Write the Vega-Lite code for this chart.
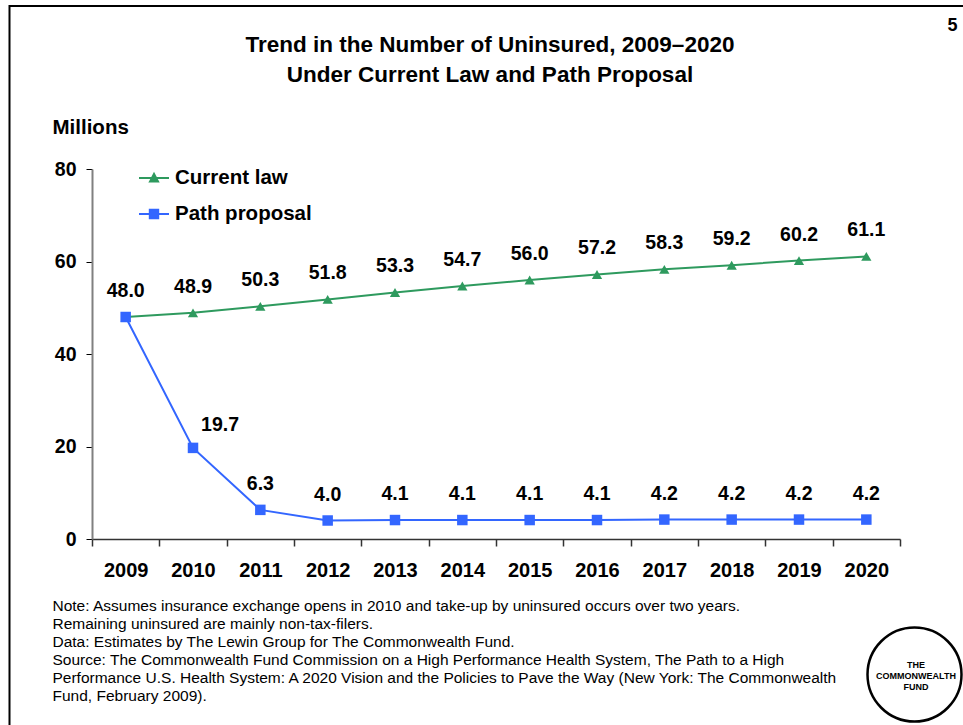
{
  "$schema": "https://vega.github.io/schema/vega-lite/v6.json",
  "width": 808,
  "height": 370,
  "autosize": {"type": "none"},
  "padding": {"left": 92, "top": 169, "right": 63, "bottom": 186},
  "background": "white",
  "config": {"font": "Liberation Sans", "view": {"stroke": null}},
  "title": {
    "text": ["Trend in the Number of Uninsured, 2009\u20132020", "Under Current Law and Path Proposal"],
    "fontSize": 22.5,
    "fontWeight": "bold",
    "font": "Liberation Sans",
    "lineHeight": 30,
    "anchor": "middle",
    "frame": "group",
    "color": "black",
    "dx": -6,
    "dy": 85
  },
  "data": {
    "values": [
      {"year": "2009", "series": "Current law", "value": 48.0},
      {"year": "2010", "series": "Current law", "value": 48.9},
      {"year": "2011", "series": "Current law", "value": 50.3},
      {"year": "2012", "series": "Current law", "value": 51.8},
      {"year": "2013", "series": "Current law", "value": 53.3},
      {"year": "2014", "series": "Current law", "value": 54.7},
      {"year": "2015", "series": "Current law", "value": 56.0},
      {"year": "2016", "series": "Current law", "value": 57.2},
      {"year": "2017", "series": "Current law", "value": 58.3},
      {"year": "2018", "series": "Current law", "value": 59.2},
      {"year": "2019", "series": "Current law", "value": 60.2},
      {"year": "2020", "series": "Current law", "value": 61.1},
      {"year": "2009", "series": "Path proposal", "value": 48.0},
      {"year": "2010", "series": "Path proposal", "value": 19.7},
      {"year": "2011", "series": "Path proposal", "value": 6.3},
      {"year": "2012", "series": "Path proposal", "value": 4.0},
      {"year": "2013", "series": "Path proposal", "value": 4.1},
      {"year": "2014", "series": "Path proposal", "value": 4.1},
      {"year": "2015", "series": "Path proposal", "value": 4.1},
      {"year": "2016", "series": "Path proposal", "value": 4.1},
      {"year": "2017", "series": "Path proposal", "value": 4.2},
      {"year": "2018", "series": "Path proposal", "value": 4.2},
      {"year": "2019", "series": "Path proposal", "value": 4.2},
      {"year": "2020", "series": "Path proposal", "value": 4.2}
    ]
  },
  "encoding": {
    "x": {
      "field": "year",
      "type": "ordinal",
      "scale": {"type": "band", "paddingInner": 0, "paddingOuter": 0},
      "axis": {
        "title": [
          "Note: Assumes insurance exchange opens in 2010 and take-up by uninsured occurs over two years.",
          "Remaining uninsured are mainly non-tax-filers.",
          "Data: Estimates by The Lewin Group for The Commonwealth Fund.",
          "Source: The Commonwealth Fund Commission on a High Performance Health System, The Path to a High",
          "Performance U.S. Health System: A 2020 Vision and the Policies to Pave the Way (New York: The Commonwealth",
          "Fund, February 2009)."
        ],
        "tickBand": "extent",
        "labelAngle": 0,
        "labelFontSize": 20,
        "labelFontWeight": "bold",
        "labelColor": "black",
        "labelPadding": 14,
        "tickSize": 7,
        "tickColor": "#333333",
        "tickWidth": 1.5,
        "domainColor": "#333333",
        "domainWidth": 1.5,
        "titleFontSize": 15.5,
        "titleFontWeight": "normal",
        "titleColor": "black",
        "titleAlign": "left",
        "titleAnchor": "start",
        "titleX": -40,
        "titleY": 59,
        "titleBaseline": "top",
        "titleLineHeight": 18
      }
    },
    "color": {
      "field": "series",
      "type": "nominal",
      "scale": {"domain": ["Current law", "Path proposal"], "range": ["#2E9A5E", "#3366FF"]},
      "legend": {
        "orient": "none",
        "legendX": 46,
        "legendY": -7,
        "padding": 0,
        "title": null,
        "symbolSize": 900,
        "symbolStrokeWidth": 2,
        "labelFontSize": 20.5,
        "labelFontWeight": "bold",
        "labelColor": "black",
        "labelOffset": 5,
        "rowPadding": 9,
        "encode": {
          "symbols": {
            "update": {
              "shape": {"signal": "datum.value === 'Current law' ? 'M-1,0H1M-0.27,0.24L0,-0.28L0.27,0.24Z' : 'M-1,0H1M-0.28,-0.28H0.28V0.28H-0.28Z'"},
              "fill": {"signal": "scale('color', datum.value)"},
              "stroke": {"signal": "scale('color', datum.value)"},
              "strokeWidth": {"value": 2},
              "opacity": {"value": 1}
            }
          }
        }
      }
    }
  },
  "layer": [
    {
      "mark": {"type": "line", "strokeWidth": 2},
      "encoding": {
        "y": {
          "field": "value",
          "type": "quantitative",
          "scale": {"domain": [0, 80]},
          "axis": {
            "values": [0, 20, 40, 60, 80],
            "title": "Millions",
            "titleAngle": 0,
            "titleX": -40,
            "titleY": -42,
            "titleAlign": "left",
            "titleBaseline": "middle",
            "titleFontSize": 20.5,
            "titleFontWeight": "bold",
            "titleColor": "black",
            "labelFontSize": 19.5,
            "labelFontWeight": "bold",
            "labelColor": "black",
            "labelPadding": 10,
            "tickSize": 6,
            "tickColor": "black",
            "domainColor": "#808080",
            "domainWidth": 2,
            "grid": false
          }
        }
      }
    },
    {
      "transform": [{"filter": "datum.series === 'Current law'"}],
      "mark": {"type": "point", "filled": true, "size": 105, "opacity": 1, "shape": "triangle-up"},
      "encoding": {
        "y": {"field": "value", "type": "quantitative", "axis": null},
        "opacity": {
          "datum": "THE COMMONWEALTH FUND",
          "type": "nominal",
          "scale": {"type": "ordinal", "range": [1]},
          "legend": {
            "orient": "none",
            "legendX": -82.5,
            "legendY": -163,
            "padding": 620,
            "strokeColor": "black",
            "title": null,
            "symbolType": "circle",
            "symbolSize": 8836,
            "symbolOffset": 236.5,
            "symbolFillColor": "white",
            "symbolStrokeColor": "black",
            "symbolStrokeWidth": 2.5,
            "symbolOpacity": 1,
            "labelExpr": "['THE', 'COMMONWEALTH', 'FUND']",
            "labelFontSize": 9,
            "labelFontWeight": "bold",
            "labelColor": "black",
            "labelAlign": "center",
            "labelOffset": -47,
            "labelLineHeight": 11.5,
            "encode": {
              "labels": {"update": {"dy": {"value": -10}}},
              "legend": {"update": {"strokeWidth": {"value": 2}}}
            }
          }
        }
      }
    },
    {
      "transform": [{"filter": "datum.series === 'Path proposal'"}],
      "mark": {"type": "point", "filled": true, "size": 110, "opacity": 1, "shape": "square"},
      "encoding": {
        "y": {"field": "value", "type": "quantitative", "axis": null}
      }
    },
    {
      "transform": [
        {"filter": "!(datum.series === 'Current law' && datum.year === '2009') && !(datum.series === 'Path proposal' && datum.year === '2010')"}
      ],
      "mark": {"type": "text", "dy": -26, "fontSize": 19.5, "fontWeight": "bold", "baseline": "middle"},
      "encoding": {
        "y": {
          "field": "value",
          "type": "quantitative",
          "axis": {
            "orient": "right",
            "title": "5",
            "titleAngle": 0,
            "titleX": 52,
            "titleY": -144,
            "titleAlign": "center",
            "titleBaseline": "middle",
            "titleFontSize": 18,
            "titleFontWeight": "bold",
            "titleColor": "black",
            "labels": false,
            "ticks": false,
            "domain": false,
            "grid": false
          }
        },
        "text": {"field": "value", "type": "quantitative", "format": ".1f"},
        "color": {"value": "black"}
      }
    },
    {
      "transform": [
        {"filter": "datum.series === 'Path proposal' && datum.year === '2010'"}
      ],
      "mark": {"type": "text", "dx": 27, "dy": -23, "fontSize": 19.5, "fontWeight": "bold", "baseline": "middle"},
      "encoding": {
        "y": {"field": "value", "type": "quantitative", "axis": null},
        "text": {"field": "value", "type": "quantitative", "format": ".1f"},
        "color": {"value": "black"}
      }
    }
  ],
  "resolve": {"axis": {"y": "independent"}}
}
